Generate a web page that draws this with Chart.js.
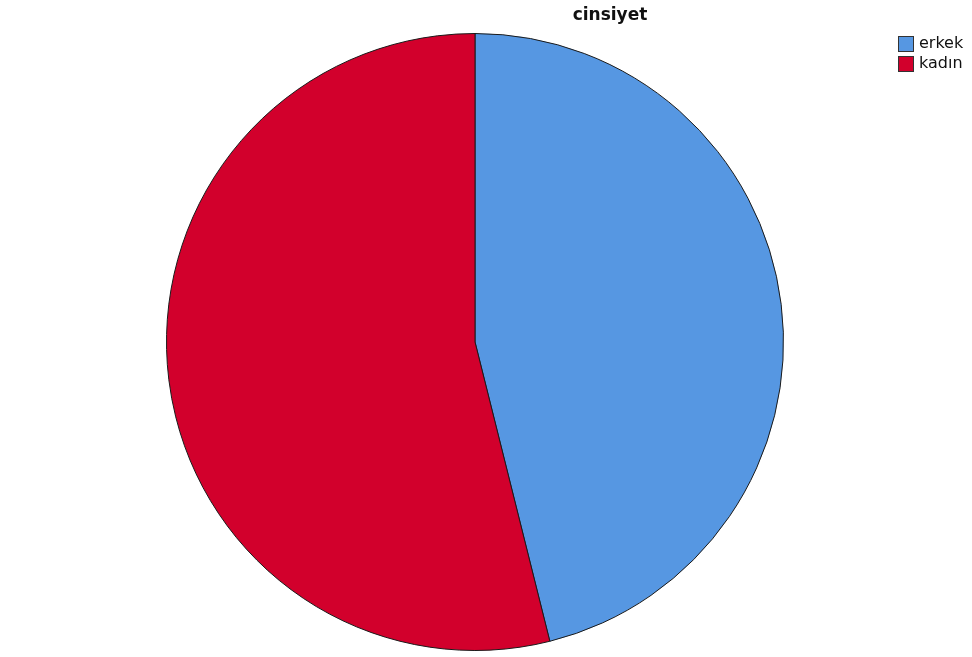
<!DOCTYPE html>
<html>
<head>
<meta charset="utf-8">
<script src="https://cdn.jsdelivr.net/npm/chart.js@4.4.0/dist/chart.umd.min.js"></script>
<style>
html,body{margin:0;padding:0;background:#fff;}
#wrap{width:972px;height:657px;position:relative;}
</style>
</head>
<body>
<div id="wrap"><canvas id="c" width="972" height="657"></canvas></div>
<script>
const title = "cinsiyet";
const categories = ["erkek", "kadın"];
const values = [46.1, 53.9];
const colors = ["#5697E2", "#D2002C"];

const overlay = {
  id: 'overlay',
  afterDraw(chart) {
    const ctx = chart.ctx;
    ctx.save();
    ctx.fillStyle = '#111';
    ctx.font = 'bold 17px "DejaVu Sans", sans-serif';
    ctx.textAlign = 'center';
    ctx.textBaseline = 'middle';
    ctx.fillText(title, 610, 16);
    ctx.font = '16px "DejaVu Sans", sans-serif';
    ctx.textAlign = 'left';
    categories.forEach((lab, i) => {
      const y = 36 + i * 20;
      ctx.fillStyle = colors[i];
      ctx.fillRect(898, y, 16, 16);
      ctx.strokeStyle = '#333';
      ctx.lineWidth = 1;
      ctx.strokeRect(898.5, y + 0.5, 15, 15);
      ctx.fillStyle = '#111';
      ctx.fillText(lab, 919, y + 8);
    });
    ctx.restore();
  }
};

new Chart(document.getElementById('c'), {
  type: 'pie',
  data: {
    labels: categories,
    datasets: [{
      data: values,
      backgroundColor: colors,
      borderColor: '#1a1a1a',
      borderWidth: 1
    }]
  },
  options: {
    responsive: false,
    animation: false,
    layout: { padding: { left: 166, right: 188, top: 33, bottom: 6 } },
    plugins: { legend: { display: false }, title: { display: false }, tooltip: { enabled: false } }
  },
  plugins: [overlay]
});
</script>
</body>
</html>
